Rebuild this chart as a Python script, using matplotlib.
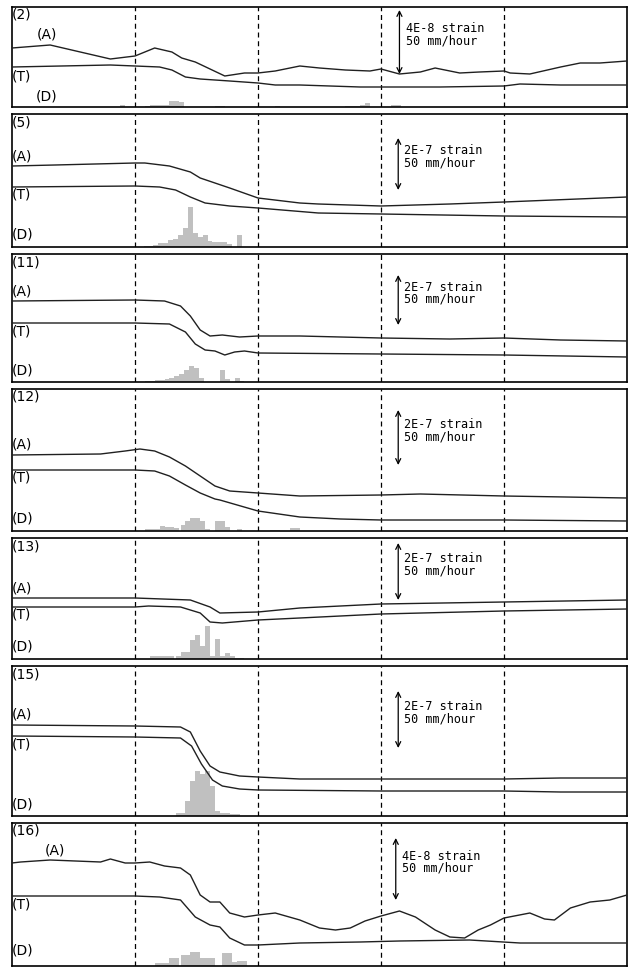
import numpy as np
import matplotlib.pyplot as plt

# station names
names = ['(2)', '(5)', '(11)', '(12)', '(13)', '(15)', '(16)']
scale_txt = ['4E-8 strain', '2E-7 strain', '2E-7 strain', '2E-7 strain',
             '2E-7 strain', '2E-7 strain', '4E-8 strain']

# (A) curves: x in days, y in px above panel floor
a2_x = [0.00, 0.31, 0.80, 1.00, 1.16, 1.30, 1.38, 1.49, 1.73, 1.89, 2.00, 2.14, 2.34, 2.50,
        2.71, 2.91, 3.00, 3.15, 3.32, 3.44, 3.64, 3.80, 4.00, 4.05, 4.21, 4.46, 4.62, 4.78, 5.00]
a2_y = [59, 62, 48, 51, 59, 55, 49, 45, 31, 34, 34, 36, 41, 39,
        37, 36, 38, 33, 35, 39, 34, 35, 36, 34, 33, 40, 44, 44, 46]
t2_x = [0.00, 0.80, 1.00, 1.20, 1.30, 1.41, 1.53, 1.77, 2.00, 2.14, 2.34, 2.83, 3.15, 3.48, 4.00, 4.13, 4.46, 5.00]
t2_y = [40, 42, 41, 40, 37, 30, 28, 26, 24, 22, 22, 20, 20, 20, 21, 23, 22, 22]
d2_x = [0.88, 1.08, 1.12, 1.16, 1.20, 1.24, 1.28, 1.32, 1.36, 1.65, 1.69, 2.14,
        2.71, 2.75, 2.79, 2.83, 2.87, 3.08, 3.12]
d2_h = [2, 1, 2, 2, 2, 2, 6, 6, 5, 1, 1, 1, 1, 1, 1, 2, 4, 2, 2]

a5_x = [0.00, 0.35, 1.00, 1.08, 1.28, 1.45, 1.53, 1.77, 2.00, 2.34, 2.49, 3.00, 3.56, 4.00, 5.00]
a5_y = [81, 82, 84, 84, 81, 75, 69, 59, 49, 44, 43, 41, 43, 45, 50]
t5_x = [0.00, 1.00, 1.20, 1.33, 1.45, 1.57, 1.77, 2.00, 2.49, 3.00, 4.00, 5.00]
t5_y = [60, 61, 60, 57, 50, 44, 41, 39, 34, 33, 31, 30]
d5_x = [1.07, 1.11, 1.15, 1.19, 1.23, 1.27, 1.31, 1.35, 1.39, 1.43, 1.47, 1.51, 1.55,
        1.59, 1.63, 1.67, 1.71, 1.75, 1.83]
d5_h = [1, 1, 2, 4, 4, 7, 8, 12, 19, 40, 14, 10, 12, 6, 5, 5, 5, 3, 12]

a11_x = [0.00, 1.00, 1.24, 1.37, 1.45, 1.53, 1.61, 1.71, 1.85, 2.00, 2.34, 3.00, 3.56, 4.00, 4.46, 5.00]
a11_y = [81, 82, 81, 76, 66, 52, 46, 47, 45, 46, 46, 44, 43, 44, 42, 41]
t11_x = [0.00, 1.00, 1.28, 1.41, 1.49, 1.57, 1.65, 1.73, 1.81, 1.89, 2.00, 3.00, 4.00, 5.00]
t11_y = [59, 59, 58, 50, 38, 32, 31, 27, 30, 31, 29, 28, 27, 25]
d11_x = [1.08, 1.12, 1.16, 1.20, 1.24, 1.28, 1.32, 1.36, 1.40, 1.44, 1.48, 1.52,
         1.69, 1.73, 1.81, 1.85]
d11_h = [1, 1, 2, 2, 3, 4, 6, 8, 12, 16, 14, 4, 12, 3, 4, 1]

a12_x = [0.00, 0.72, 0.92, 1.04, 1.16, 1.28, 1.41, 1.53, 1.65, 1.77, 2.00, 2.34, 3.00, 3.32, 4.00, 5.00]
a12_y = [76, 77, 80, 82, 80, 74, 65, 55, 45, 40, 38, 35, 36, 37, 35, 33]
t12_x = [0.00, 1.00, 1.16, 1.28, 1.41, 1.53, 1.65, 1.69, 2.00, 2.34, 2.67, 3.00, 4.00, 5.00]
t12_y = [61, 61, 60, 55, 46, 38, 32, 31, 20, 14, 12, 11, 11, 10]
d12_x = [1.08, 1.12, 1.16, 1.20, 1.24, 1.28, 1.32, 1.37, 1.41, 1.45, 1.49, 1.53, 1.57,
         1.65, 1.69, 1.73, 1.83, 2.10, 2.14, 2.26, 2.30]
d12_h = [2, 2, 2, 5, 4, 4, 3, 6, 10, 13, 13, 10, 2, 10, 10, 4, 2, 1, 1, 3, 3]

a13_x = [0.00, 1.00, 1.45, 1.61, 1.69, 2.00, 2.34, 3.00, 4.00, 5.00]
a13_y = [61, 61, 59, 52, 46, 47, 51, 55, 57, 59]
t13_x = [0.00, 1.00, 1.11, 1.37, 1.53, 1.61, 1.71, 2.00, 2.34, 3.00, 4.00, 5.00]
t13_y = [52, 52, 53, 52, 46, 37, 36, 39, 41, 45, 48, 50]
d13_x = [1.12, 1.16, 1.20, 1.24, 1.28, 1.33, 1.37, 1.41, 1.45, 1.49, 1.53, 1.57, 1.61,
         1.65, 1.69, 1.73, 1.77, 1.81, 1.85]
d13_h = [3, 3, 3, 3, 3, 3, 7, 7, 19, 24, 13, 33, 3, 20, 3, 6, 3, 1, 1]

a15_x = [0.00, 1.00, 1.37, 1.45, 1.53, 1.61, 1.69, 1.85, 2.00, 2.34, 3.00, 4.00, 4.46, 5.00]
a15_y = [91, 90, 89, 84, 65, 50, 44, 40, 39, 37, 37, 37, 38, 38]
t15_x = [0.00, 1.00, 1.37, 1.46, 1.54, 1.63, 1.71, 1.85, 2.00, 3.00, 4.00, 4.46, 5.00]
t15_y = [80, 79, 78, 70, 52, 36, 30, 27, 26, 25, 25, 24, 24]
d15_x = [1.33, 1.37, 1.41, 1.45, 1.49, 1.53, 1.57, 1.61, 1.65, 1.69, 1.73, 1.77, 1.81]
d15_h = [3, 3, 15, 35, 45, 42, 45, 30, 5, 3, 3, 2, 2]

a16_x = [0.00, 0.07, 0.31, 0.72, 0.80, 0.92, 1.00, 1.12, 1.24, 1.37, 1.45, 1.53, 1.61, 1.69,
         1.77, 1.89, 2.00, 2.14, 2.34, 2.50, 2.63, 2.75, 2.87, 3.00, 3.15, 3.28, 3.44, 3.56,
         3.68, 3.79, 3.89, 4.00, 4.21, 4.33, 4.41, 4.54, 4.70, 4.86, 5.00]
a16_y = [103, 104, 106, 104, 107, 103, 103, 104, 100, 98, 91, 71, 64, 64, 53, 49, 51, 53,
         46, 38, 36, 38, 45, 50, 55, 49, 36, 29, 28, 36, 41, 48, 53, 47, 46, 58, 64, 66, 71]
t16_x = [0.00, 1.00, 1.20, 1.37, 1.49, 1.61, 1.69, 1.77, 1.89, 2.00, 2.34, 2.83, 3.15, 3.72, 4.13, 5.00]
t16_y = [70, 70, 69, 66, 49, 41, 39, 28, 21, 21, 23, 24, 25, 26, 23, 23]
d16_x = [1.16, 1.20, 1.24, 1.28, 1.32, 1.37, 1.41, 1.45, 1.49, 1.53, 1.57, 1.61,
         1.71, 1.75, 1.79, 1.83, 1.87]
d16_h = [3, 3, 3, 8, 8, 11, 11, 14, 14, 8, 8, 8, 13, 13, 4, 5, 5]

A = [(a2_x, a2_y), (a5_x, a5_y), (a11_x, a11_y), (a12_x, a12_y),
     (a13_x, a13_y), (a15_x, a15_y), (a16_x, a16_y)]
T = [(t2_x, t2_y), (t5_x, t5_y), (t11_x, t11_y), (t12_x, t12_y),
     (t13_x, t13_y), (t15_x, t15_y), (t16_x, t16_y)]
D = [(d2_x, d2_h), (d5_x, d5_h), (d11_x, d11_h), (d12_x, d12_h),
     (d13_x, d13_h), (d15_x, d15_h), (d16_x, d16_h)]

W, H = 628, 967
tops = [7, 114, 254, 389, 538, 666, 823]
bots = [107, 247, 382, 531, 659, 816, 966]
x0, x1 = 12, 627

# label placement (y centers, px above floor) and scale-bar geometry
lab_A = [(0.20, 72), (0.0, 91), (0.0, 91), (0.0, 86), (0.0, 71), (0.0, 101), (0.27, 116)]
lab_T = [(0.0, 31), (0.0, 52), (0.0, 51), (0.0, 53), (0.0, 44), (0.0, 72), (0.0, 61)]
lab_D = [(0.19, 11), (0.0, 12), (0.0, 12), (0.0, 12), (0.0, 12), (0.0, 12), (0.0, 15)]
bar_x = [3.15, 3.14, 3.14, 3.14, 3.14, 3.14, 3.12]
bar_top = [97, 109, 107, 121, 116, 125, 128]
bar_bot = [33, 57, 57, 66, 59, 68, 66]

fig = plt.figure(figsize=(W / 100, H / 100), dpi=100)
fig.patch.set_facecolor('white')

for i in range(7):
    h = bots[i] - tops[i]
    ax = fig.add_axes([x0 / W, 1 - bots[i] / H, (x1 - x0) / W, h / H])
    ax.set_xlim(0, 5)
    ax.set_ylim(0, h)
    ax.set_xticks([])
    ax.set_yticks([])
    for s in ax.spines.values():
        s.set_linewidth(1.2)
        s.set_color('black')
    for xv in [1, 2, 3, 4]:
        ax.axvline(xv, color='black', lw=0.9, ls=(0, (4, 3)), zorder=1)
    ax.bar(D[i][0], D[i][1], width=0.04, align='edge', color='#c0c0c0', lw=0, zorder=2)
    ax.plot(A[i][0], A[i][1], color='#202020', lw=1.0, zorder=3)
    ax.plot(T[i][0], T[i][1], color='#202020', lw=1.0, zorder=3)

    ax.text(0.0, h - 1, names[i], fontsize=10, va='top', ha='left')
    ax.text(lab_A[i][0], lab_A[i][1], '(A)', fontsize=10, va='center', ha='left')
    ax.text(lab_T[i][0], lab_T[i][1], '(T)', fontsize=10, va='center', ha='left')
    ax.text(lab_D[i][0], lab_D[i][1], '(D)', fontsize=10, va='center', ha='left')

    ax.annotate('', xy=(bar_x[i], bar_top[i]), xytext=(bar_x[i], bar_bot[i]),
                arrowprops=dict(arrowstyle='<->', lw=0.9, color='black',
                                mutation_scale=9, shrinkA=0, shrinkB=0))
    ymid = (bar_top[i] + bar_bot[i]) / 2
    ax.text(bar_x[i] + 0.05, ymid + 13, scale_txt[i], fontsize=8.5,
            family='DejaVu Sans Mono', va='center', ha='left')
    ax.text(bar_x[i] + 0.05, ymid + 1, '50 mm/hour', fontsize=8.5,
            family='DejaVu Sans Mono', va='center', ha='left')

fig.savefig('out.png', dpi=100)
